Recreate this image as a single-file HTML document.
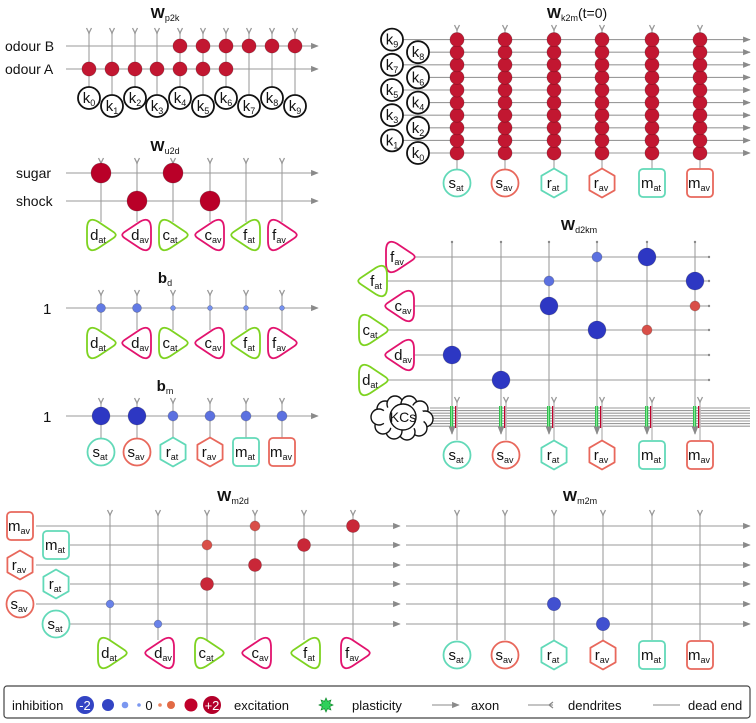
<!DOCTYPE html>
<html><head><meta charset="utf-8"><style>
html,body{margin:0;padding:0;background:#fff;width:756px;height:723px;overflow:hidden}
svg{display:block;font-family:"Liberation Sans",sans-serif}
</style></head><body>
<svg id="s" width="756" height="723" viewBox="0 0 756 723" xmlns="http://www.w3.org/2000/svg">
<defs>
<marker id="ah" viewBox="0 0 10 10" refX="9" refY="5" markerWidth="7" markerHeight="7" orient="auto"><path d="M0,1 L10,5 L0,9 Z" fill="#8a8a8a"/></marker>
</defs>
</svg>
<script>
// ---- data ----
const p2kRows = ["odour B","odour A"];
const p2kW = [[0,0,0,0,1,1,1,1,1,1],[1,1,1,1,1,1,1,0,0,0]];
const u2dRows = ["sugar","shock"];
const u2dW = [[2,0,2,0,0,0],[0,2,0,2,0,0]];
const bdW = [-0.4,-0.4,-0.12,-0.12,-0.12,-0.12];
const bmW = [-1.6,-1.6,-0.5,-0.5,-0.5,-0.5];
const k2mW = 1;
const dRows = ["fav","fat","cav","cat","dav","dat"];
const d2kmW = [[0,0,0,-0.5,-1.6,0],[0,0,-0.5,0,0,-1.6],[0,0,-1.6,0,0,0.5],[0,0,0,-1.6,0.5,0],[-1.6,0,0,0,0,0],[0,-1.6,0,0,0,0]];
const mRows = ["mav","mat","rav","rat","sav","sat"];
const m2dW = [[0,0,0,0.5,0,0.85],[0,0,0.5,0,0.85,0],[0,0,0,0.85,0,0],[0,0,0.85,0,0,0],[-0.3,0,0,0,0,0],[0,-0.3,0,0,0,0]];
const m2mW = [[0,0,0,0,0,0],[0,0,0,0,0,0],[0,0,0,0,0,0],[0,0,0,0,0,0],[0,0,-0.9,0,0,0],[0,0,0,-0.9,0,0]];
const dNames = ["dat","dav","cat","cav","fat","fav"];
const mNames = ["sat","sav","rat","rav","mat","mav"];

const S = document.getElementById('s');
const NS = "http://www.w3.org/2000/svg";
function el(tag, attrs, parent){const e=document.createElementNS(NS,tag);for(const k in attrs)e.setAttribute(k,attrs[k]);(parent||S).appendChild(e);return e;}
function rad(w){return 10*Math.sqrt(Math.abs(w)/2);}
function mix(a,b,t){return 'rgb('+a.map((v,i)=>Math.round(v+(b[i]-v)*t)).join(',')+')';}
function col(w){const t=Math.min(1,Math.abs(w)/1.2);return w<0?mix([125,155,245],[45,55,195],t):mix([240,135,95],[185,0,40],t);}
function dot(x,y,w){if(!w)return;const c=el('circle',{cx:x,cy:y,r:rad(w),fill:col(w),stroke:'rgba(0,0,0,0.25)','stroke-width':0.7});

}
function hline(x1,x2,y,arrow,end){const l=el('line',{x1:x1,y1:y,x2:x2,y2:y,stroke:'#9a9a9a','stroke-width':1.1});if(arrow)l.setAttribute('marker-end','url(#ah)');


if(end)el('circle',{cx:x2,cy:y,r:1.2,fill:'#888'});}
function vline(x,y1,y2){const l=el('line',{x1:x,y1:y1,x2:x,y2:y2,stroke:'#c4c4c4','stroke-width':1.8});

}
function chev(x,y){const p=el('path',{d:`M${x-2.5},${y-3} L${x},${y+2} L${x+2.5},${y-3}`,fill:'none',stroke:'#999','stroke-width':1.3});

}
function txt(x,y,s,size,anchor,weight,fill){const t=el('text',{x:x,y:y,'font-size':size,'text-anchor':anchor||'start','font-weight':weight||'normal',fill:fill||'#111'});t.textContent=s;return t;}
function title(x,y,main,sub,extra){const t=el('text',{x:x,y:y,'font-size':15,'text-anchor':'middle','font-weight':'bold',fill:'#111'});


const a=el('tspan',{},t);a.textContent=main;const b=el('tspan',{dy:3,'font-size':9,'font-weight':'normal'},t);b.textContent=sub;
if(extra){const c=el('tspan',{dy:-3,'font-size':14,'font-weight':'normal'},t);c.textContent=extra;}}
function label(cx,cy,main,sub,size){const t=el('text',{x:cx,y:cy+5,'font-size':size||15,'text-anchor':'middle',fill:'#111'});
const a=el('tspan',{},t);a.textContent=main;const b=el('tspan',{dy:3,'font-size':9},t);b.textContent=sub;return t;}
const GREEN='#7ed321',MAG='#e2136e',TEAL='#62d9b8',SAL='#e8685c';
function neuron(name,cx,cy){
 const g=el('g',{});
 
 
 const L=name[0],sub=name.slice(1),av=sub==='av';
 let tx=cx-(L==='k'?0:1);
 if(L==='k'){el('circle',{cx:cx,cy:cy,r:11,fill:'#fff',stroke:'#111','stroke-width':1.8},g);}
 else if(L==='s'){el('circle',{cx:cx,cy:cy,r:13.5,fill:'#fff',stroke:av?SAL:TEAL,'stroke-width':1.8},g);}
 else if(L==='r'){let p=[];for(let i=0;i<6;i++){const a=Math.PI/3*i-Math.PI/2;p.push((cx+14.5*Math.cos(a)).toFixed(1)+','+(cy+14.5*Math.sin(a)).toFixed(1));}
   el('polygon',{points:p.join(' '),fill:'#fff',stroke:av?SAL:TEAL,'stroke-width':1.8,'stroke-linejoin':'round'},g);}
 else if(L==='m'){el('rect',{x:cx-13,y:cy-14,width:26,height:28,rx:4,fill:'#fff',stroke:av?SAL:TEAL,'stroke-width':1.8},g);}
 else {const right=(L==='d'||L==='c')?!av:av; const s=right?1:-1;
   const X=v=>cx+v*s;
   const d=`M${X(-14)},${cy-6} C${X(-14)},${cy-17} ${X(-8)},${cy-17} ${X(-1)},${cy-12} L${X(11)},${cy-4} C${X(16)},${cy-1} ${X(16)},${cy+1} ${X(11)},${cy+4} L${X(-1)},${cy+12} C${X(-8)},${cy+17} ${X(-14)},${cy+17} ${X(-14)},${cy+6} Z`;
   el('path',{d:d,fill:'#fff',stroke:av?MAG:GREEN,'stroke-width':1.8},g);
   tx=cx-3*s;}
 const t=label(tx,cy,L,sub,15); g.appendChild(t);
}

// ===== Wp2k =====
title(165,18,'W','p2k');
const p2kX=[89,112,135,157,180,203,226,249,272,295], p2kY=[46,69];
p2kX.forEach((x,i)=>{vline(x,32,i%2?94:87);chev(x,31);});
p2kRows.forEach((r,j)=>{txt(5,p2kY[j]+5,r,14);hline(66,318,p2kY[j],true);p2kW[j].forEach((w,i)=>dot(p2kX[i],p2kY[j],w));});
p2kX.forEach((x,i)=>neuron('k'+i,x,i%2?106:98));

// ===== Wu2d =====
title(165,151,'W','u2d');
const colD=[101,137,173,210,246,282], u2dY=[173,201];
colD.forEach(x=>{vline(x,162,222);chev(x,161);});
u2dRows.forEach((r,j)=>{txt(16,u2dY[j]+5,r,14);hline(66,318,u2dY[j],true);u2dW[j].forEach((w,i)=>dot(colD[i],u2dY[j],w));});
dNames.forEach((n,i)=>neuron(n,colD[i],235));

// ===== bd =====
title(165,283,'b','d');
colD.forEach(x=>{vline(x,295,330);chev(x,293);});
txt(43,314,'1',15);hline(66,318,308,true);
bdW.forEach((w,i)=>dot(colD[i],308,w));
dNames.forEach((n,i)=>neuron(n,colD[i],343));

// ===== bm =====
title(165,391,'b','m');
colD.forEach(x=>{vline(x,403,440);chev(x,401);});
txt(43,422,'1',15);hline(66,318,416,true);
bmW.forEach((w,i)=>dot(colD[i],416,w));
mNames.forEach((n,i)=>neuron(n,colD[i],452));

// ===== Wk2m =====
title(577,18,'W','k2m','(t=0)');
const colK=[457,505,554,602,652,700];
const kY=[]; for(let i=0;i<10;i++)kY.push(153-i*12.6);
colK.forEach(x=>{vline(x,30,170);chev(x,28);});
kY.forEach((y,i)=>{hline(i%2?403:428,750,y,true);colK.forEach(x=>dot(x,y,k2mW));});
kY.forEach((y,i)=>neuron('k'+i,i%2?392:418,y));
mNames.forEach((n,i)=>neuron(n,colK[i],183));

// ===== Wd2km =====
title(579,230,'W','d2km');
const colM=[452,501,549,597,647,695], dY=[257,281,306,330,355,380];
colM.forEach(x=>{vline(x,242,430);el('circle',{cx:x,cy:242,r:1.2,fill:'#888'});});
dRows.forEach((n,j)=>{const lx=j%2?373:400;hline(lx+13,709,dY[j],false,true);});
dRows.forEach((n,j)=>{d2kmW[j].forEach((w,i)=>dot(colM[i],dY[j],w));neuron(n,j%2?373:400,dY[j]);});
// KC bundle
for(let i=0;i<8;i++){hline(430,750,408+i*2.6,false,false);}
colM.forEach(x=>{
 const g=el('rect',{x:x-2,y:406,width:3.2,height:22,fill:'#2fbf4f'});
 
 
 el('rect',{x:x-0.6,y:406,width:0.6,height:22,fill:'#bfffbf'});
 el('rect',{x:x+3,y:406,width:2.6,height:22,fill:'#c0002a'});
 el('line',{x1:x+5,y1:401,x2:x+5,y2:440,stroke:'#c4c4c4','stroke-width':1.6});
 chev(x+5,400);
 el('line',{x1:x,y1:428,x2:x,y2:434,stroke:'#888','stroke-width':1.2,'marker-end':'url(#ah)'});
});
// cloud
(function(){const g=el('g',{});
 const pts=[[-18,-8],[-8,-13],[6,-13],[17,-8],[22,2],[16,11],[4,15],[-9,14],[-20,9],[-24,0]];
 pts.forEach(p=>el('circle',{cx:403+p[0],cy:417+p[1],r:8,fill:'#fff',stroke:'#111','stroke-width':1.4},g));
 el('ellipse',{cx:403,cy:417,rx:22,ry:13,fill:'#fff',stroke:'none'},g);
 el('circle',{cx:403,cy:417,r:13,fill:'#fff',stroke:'#111','stroke-width':1.4},g);
 g.appendChild(txt(403,422,'KCs',14,'middle'));})();
mNames.forEach((n,i)=>neuron(n,colM[i]+5,455));

// ===== Wm2d =====
title(233,501,'W','m2d');
const colMD=[110,158,207,255,304,353], mY=[526,545,565,584,604,624];
colMD.forEach(x=>{vline(x,514,640);chev(x,513);});
mRows.forEach((n,j)=>{hline(j%2?70:36,400,mY[j],true);});
mRows.forEach((n,j)=>{m2dW[j].forEach((w,i)=>dot(colMD[i],mY[j],w));neuron(n,j%2?56:20,mY[j]);});
dNames.forEach((n,i)=>neuron(n,colMD[i]+2,653));

// ===== Wm2m =====
title(580,501,'W','m2m');
const colMM=[457,505,554,603,652,700];
colMM.forEach(x=>{vline(x,514,640);chev(x,513);});
mY.forEach((y,j)=>{hline(406,750,y,true);m2mW[j].forEach((w,i)=>dot(colMM[i],y,w));});
mNames.forEach((n,i)=>neuron(n,colMM[i],655));

// ===== Legend =====
(function(){const g=el('g',{});
 el('rect',{x:4,y:686,width:746,height:32,rx:3,fill:'#fff',stroke:'#444','stroke-width':1.2},g);
 const y=705;
 g.appendChild(txt(12,y+5,'inhibition',13));
 el('circle',{cx:85,cy:y,r:9,fill:'#3344c4'},g);g.appendChild(txt(85,y+5,'-2',13,'middle','normal','#fff'));
 el('circle',{cx:108,cy:y,r:6,fill:'#3344c4'},g);
 el('circle',{cx:125,cy:y,r:3.3,fill:'#7b97f0'},g);
 el('circle',{cx:139,cy:y,r:1.8,fill:'#7b97f0'},g);
 g.appendChild(txt(149,y+5,'0',13,'middle'));
 el('circle',{cx:160,cy:y,r:1.8,fill:'#ec8560'},g);
 el('circle',{cx:171,cy:y,r:4,fill:'#e26a45'},g);
 el('circle',{cx:191,cy:y,r:6.5,fill:'#c0002a'},g);
 el('circle',{cx:212,cy:y,r:9,fill:'#b3002a'},g);g.appendChild(txt(212,y+5,'+2',13,'middle','normal','#fff'));
 g.appendChild(txt(234,y+5,'excitation',13));
 let st=[];for(let i=0;i<16;i++){const a=Math.PI/8*i,r=i%2?4:7;st.push((326+r*Math.cos(a)).toFixed(1)+','+(y+r*Math.sin(a)).toFixed(1));}
 el('polygon',{points:st.join(' '),fill:'#2fd05a',stroke:'#138a2e','stroke-width':0.7},g);
 g.appendChild(txt(352,y+5,'plasticity',13));
 el('line',{x1:432,y1:y,x2:459,y2:y,stroke:'#888','stroke-width':1.1,'marker-end':'url(#ah)'},g);
 g.appendChild(txt(471,y+5,'axon',13));
 el('line',{x1:528,y1:y,x2:553,y2:y,stroke:'#888','stroke-width':1.1},g);
 el('path',{d:`M${553},${y-3} L${549},${y} L${553},${y+3}`,fill:'none',stroke:'#888','stroke-width':1.2},g);
 g.appendChild(txt(568,y+5,'dendrites',13));
 el('line',{x1:653,y1:y,x2:680,y2:y,stroke:'#888','stroke-width':1.1},g);
 g.appendChild(txt(688,y+5,'dead end',13));
})();
</script>
</body></html>
